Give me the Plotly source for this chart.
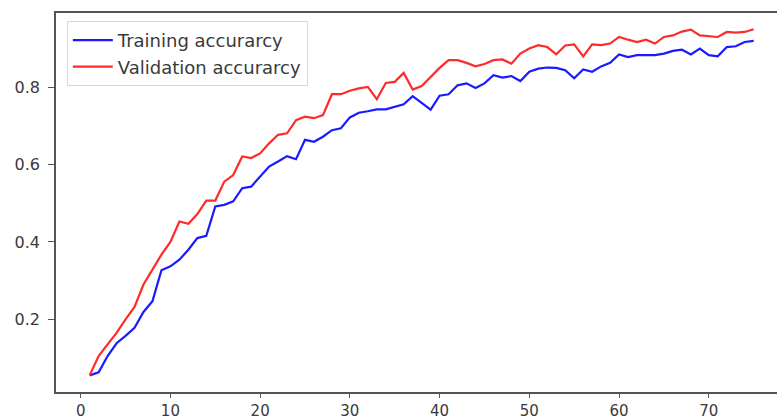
import plotly.graph_objects as go

epochs = list(range(1, 76))

training_acc = [
    0.055, 0.063, 0.105, 0.138, 0.157, 0.178, 0.219, 0.247, 0.327, 0.337,
    0.354, 0.380, 0.410, 0.416, 0.492, 0.496, 0.505, 0.539, 0.543, 0.569,
    0.595, 0.608, 0.622, 0.614, 0.664, 0.659, 0.672, 0.689, 0.694, 0.722,
    0.734, 0.738, 0.743, 0.743, 0.749, 0.756, 0.777, 0.760, 0.742, 0.778,
    0.782, 0.805, 0.810, 0.798, 0.810, 0.831, 0.825, 0.829, 0.816, 0.840,
    0.848, 0.851, 0.850, 0.844, 0.823, 0.846, 0.840, 0.854, 0.863, 0.885,
    0.878, 0.883, 0.883, 0.883, 0.887, 0.894, 0.897, 0.885, 0.900, 0.883,
    0.880, 0.904, 0.906, 0.917, 0.920,
]

validation_acc = [
    0.055, 0.105, 0.135, 0.165, 0.200, 0.232, 0.290, 0.330, 0.367, 0.400,
    0.453, 0.447, 0.472, 0.507, 0.507, 0.556, 0.573, 0.621, 0.617, 0.629,
    0.655, 0.677, 0.681, 0.715, 0.724, 0.720, 0.728, 0.782, 0.782, 0.791,
    0.797, 0.801, 0.769, 0.811, 0.814, 0.837, 0.794, 0.803, 0.827, 0.850,
    0.870, 0.870, 0.863, 0.854, 0.860, 0.870, 0.872, 0.861, 0.887, 0.900,
    0.909, 0.904, 0.885, 0.908, 0.911, 0.880, 0.911, 0.909, 0.913, 0.930,
    0.923, 0.917, 0.923, 0.913, 0.930, 0.934, 0.944, 0.949, 0.934, 0.932,
    0.930, 0.943, 0.941, 0.943, 0.950,
]

x_ticks = [0, 10, 20, 30, 40, 50, 60, 70]
y_ticks = [0.2, 0.4, 0.6, 0.8]
y_tick_labels = ["0.2", "0.4", "0.6", "0.8"]

fig = go.Figure()
fig.add_trace(go.Scatter(x=epochs, y=training_acc, mode="lines",
                         name="Training accurarcy",
                         line=dict(color="#1a1aff", width=2.2)))
fig.add_trace(go.Scatter(x=epochs, y=validation_acc, mode="lines",
                         name="Validation accurarcy",
                         line=dict(color="#ff2a2a", width=2.2)))

x_font = dict(family="DejaVu Sans", size=15, color="#3a3a3a")
y_font = dict(family="DejaVu Sans", size=16, color="#3a3a3a")

fig.update_layout(
    width=777, height=419,
    margin=dict(l=56, r=0, t=13, b=27, autoexpand=False),
    paper_bgcolor="white", plot_bgcolor="white",
    showlegend=True,
    legend=dict(
        x=0.015, y=0.979, xanchor="left", yanchor="top",
        bgcolor="rgba(255,255,255,0.9)", bordercolor="#d8d8d8", borderwidth=1,
        font=dict(family="DejaVu Sans", size=18, color="#3a3a3a"),
        itemwidth=40, tracegroupgap=0,
    ),
    xaxis=dict(
        range=[-2.75, 77.6], tickmode="array", tickvals=x_ticks,
        showgrid=False, zeroline=False,
        showline=True, linecolor="#555555", linewidth=1.5, mirror=True,
        ticks="outside", ticklen=4, tickwidth=1.2, tickcolor="#555555",
        tickfont=x_font, automargin=False,
    ),
    yaxis=dict(
        range=[0.012, 0.992], tickmode="array", tickvals=y_ticks,
        ticktext=y_tick_labels,
        showgrid=False, zeroline=False,
        showline=True, linecolor="#555555", linewidth=1.5, mirror=False,
        ticks="outside", ticklen=6, tickwidth=1.2, tickcolor="#555555",
        tickfont=y_font, automargin=False, ticklabelstandoff=5,
    ),
)

fig.write_html(
    "out.html",
    config={"displayModeBar": False},
    post_script="document.body.style.margin='0';document.body.style.padding='0';"
                "document.documentElement.style.overflow='hidden';",
)
